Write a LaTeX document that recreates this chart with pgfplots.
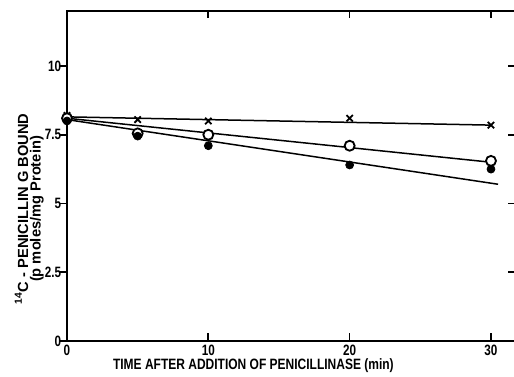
\documentclass[border=0pt]{standalone}
\usepackage{fontspec}
\setmainfont{Liberation Sans}[FakeStretch=0.8]
\newfontfamily\ticfont{Liberation Sans}[FakeStretch=0.78]
\newfontfamily\ylfont{Liberation Sans}
\usepackage{pgfplots}
\pgfplotsset{compat=1.18}
\begin{document}
\begin{tikzpicture}
\begin{axis}[name=ax, scale only axis, width=268.8pt, height=198pt,
  xmin=0, xmax=31.7, ymin=0, ymax=12,
  xtick={0,10,20,30}, ytick={0,2.5,5,7.5,10},
  xticklabels={0,10,20,30}, yticklabels={0,2.5,5,7.5,10},
  axis line style={line width=1.2pt},
  tick align=inside, major tick length=4.5pt,
  tick style={line width=1pt, black},
  xtick pos=both, ytick pos=right, yticklabel pos=left,
  /pgf/number format/assume math mode=true,
  tick label style={font=\ticfont\bfseries\fontsize{9}{10}\selectfont},
  xticklabel style={yshift=1pt},
  xlabel={TIME AFTER ADDITION OF PENICILLINASE (min)},
  xlabel style={font=\bfseries\fontsize{9}{10}\selectfont, at={(rel axis cs:0.416,0)}, anchor=north, yshift=-7pt},
  ylabel={\textsuperscript{14}C - PENICILLIN G BOUND\\(p moles/mg Protein)},
  ylabel style={font=\ylfont\bfseries\fontsize{8.8}{6}\selectfont, align=center, inner sep=0pt, at={(rel axis cs:-0.0513,0.40)}, anchor=south},
  clip=false,
]
% regression lines
\addplot[black, line width=0.9pt] coordinates {(0,8.15) (30,7.85)};
\addplot[black, line width=0.9pt] coordinates {(0,8.1) (30,6.5)};
\addplot[black, line width=0.9pt] coordinates {(0,8.05) (30.5,5.7)};
% crosses
\addplot[only marks, mark=x, mark size=2.7pt, line width=1.1pt, black] coordinates {(0,8.2) (5,8.05) (10,8.0) (20,8.1) (30,7.85)};
% open circles
\addplot[only marks, mark=*, mark size=3pt, line width=1.1pt, draw=black, fill=white, mark options={fill=white}] coordinates {(0,8.1) (5,7.55) (10,7.5) (20,7.1) (30,6.55)};
% filled circles
\addplot[only marks, mark=*, mark size=2.4pt, black] coordinates {(0,8.0) (5,7.45) (10,7.1) (20,6.4) (30,6.25)};
\end{axis}
% overlay axis for outward left y ticks
\begin{axis}[scale only axis, width=268.8pt, height=198pt,
  xmin=0, xmax=31.7, ymin=0, ymax=12,
  axis line style={draw=none}, xtick=\empty,
  ytick={0,2.5,5,7.5,10}, yticklabels={},
  tick align=outside, major tick length=4.5pt,
  tick style={line width=1pt, black}, ytick pos=left]
\end{axis}
\pgfresetboundingbox
\path ([shift={(-40.2pt,-21.6pt)}]ax.south west) rectangle ([shift={(-0.6pt,6.6pt)}]ax.north east);
\end{tikzpicture}
\end{document}
